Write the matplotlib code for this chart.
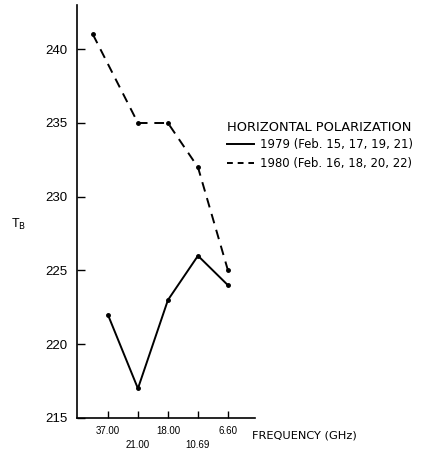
import matplotlib
matplotlib.use("Agg")
import matplotlib.pyplot as plt
from matplotlib.lines import Line2D

plt.rcParams['font.family'] = ['Liberation Sans', 'DejaVu Sans']

freq_labels = ["37.00", "21.00", "18.00", "10.69", "6.60"]
freq_pos = [0, 1, 2, 3, 4]

x_1979 = [0, 1, 2, 3, 4]
tb_1979 = [222, 217, 223, 226, 224]

x_1980 = [-0.5, 1, 2, 3, 4]
tb_1980 = [241, 235, 235, 232, 225]

y_ticks = [215, 220, 225, 230, 235, 240]

label_1979 = '1979 (Feb. 15, 17, 19, 21)'
label_1980 = '1980 (Feb. 16, 18, 20, 22)'

fig = plt.figure(figsize=(4.21, 4.49), dpi=100)
ax = fig.add_axes([77/421, 1-418/449, (255-77)/421, (418-5)/449])

ax.plot(x_1979, tb_1979, '-', color='black', lw=1.4, marker='o', ms=2.5)
ax.plot(x_1980, tb_1980, '--', color='black', lw=1.4, marker='o', ms=2.5,
        dashes=(5, 3.5))

ax.set_xlim(-1.03, 4.9)
ax.set_ylim(215, 243)
ax.set_yticks(y_ticks)
ax.set_yticklabels([str(v) for v in y_ticks], fontsize=9.5)
ax.set_xticks(freq_pos)
ax.set_xticklabels([lab if i % 2 == 0 else "\n" + lab for i, lab in enumerate(freq_labels)],
                   fontsize=7, linespacing=1.5)
ax.tick_params(axis='x', direction='in', length=5, width=1, pad=6)
ax.tick_params(axis='y', direction='in', length=6, width=1, pad=7)
for s in ['top', 'right']:
    ax.spines[s].set_visible(False)
for s in ['left', 'bottom']:
    ax.spines[s].set_linewidth(1.2)

fig.text(19/421, 1-224/449, r'T$_\mathrm{B}$', fontsize=9, ha='center', va='center')
fig.text(252/421, 1-435/449, 'FREQUENCY (GHz)', fontsize=8.2, ha='left', va='center',
         family='DejaVu Sans')

# legend
fig.text(227/421, 1-127/449, 'HORIZONTAL POLARIZATION', fontsize=9.4, ha='left', va='center',
         family='DejaVu Sans')
handles = [Line2D([], [], color='black', lw=1.4, ls='-'),
           Line2D([], [], color='black', lw=1.4, ls='--', dashes=(3, 2.5))]
leg = ax.legend(handles, [label_1979, label_1980], loc='upper left',
                bbox_to_anchor=(227/421, 1-138/449),
                bbox_transform=fig.transFigure, frameon=False,
                prop={'family': 'DejaVu Sans', 'size': 8.4},
                handlelength=2.3, handletextpad=0.5, labelspacing=0.55,
                borderaxespad=0, borderpad=0)

fig.savefig('out.png', dpi=100)
